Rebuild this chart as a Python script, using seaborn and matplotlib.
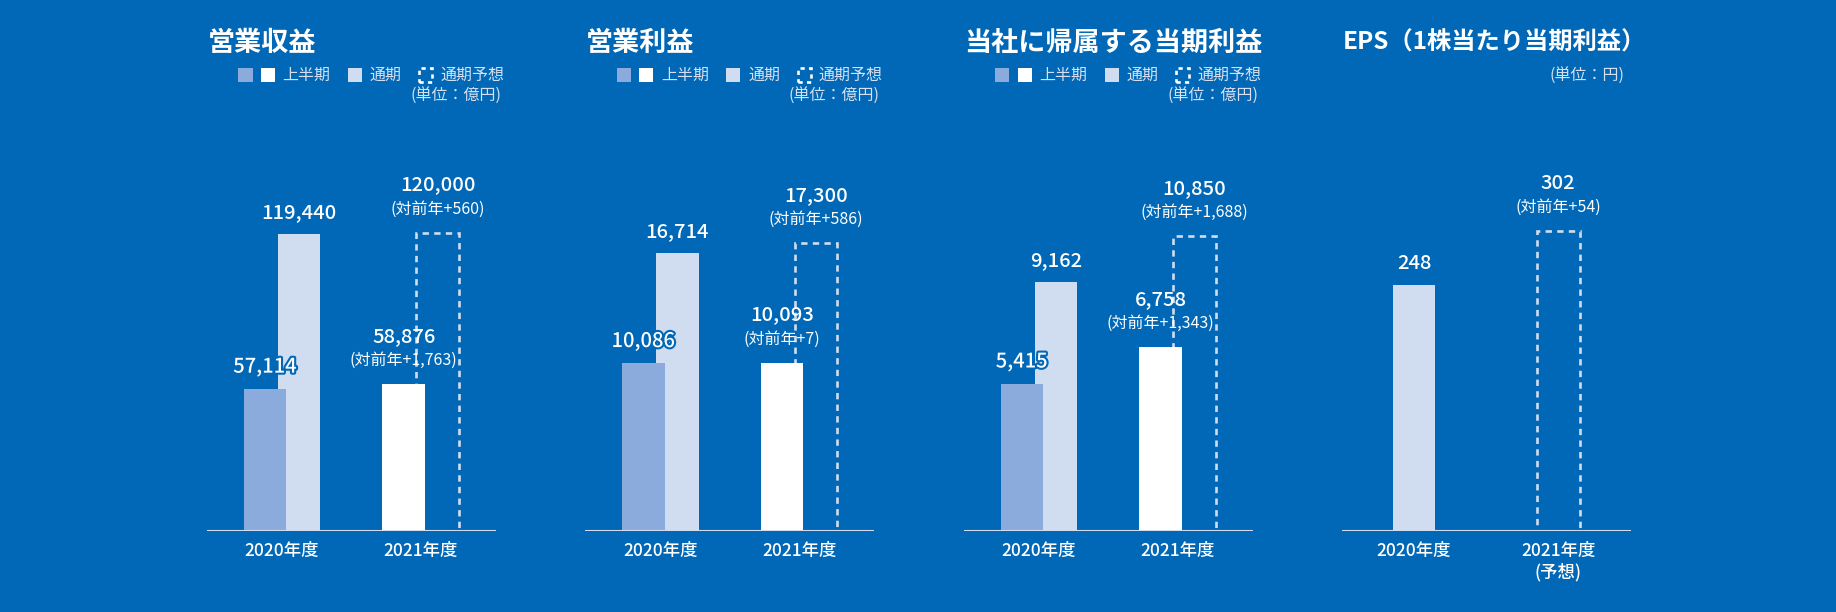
import matplotlib
matplotlib.use("Agg")
import matplotlib.pyplot as plt
import matplotlib.patheffects as pe
from matplotlib.patches import Rectangle
import seaborn as sns

# 各指標の値（単位は units）
titles = ["営業収益", "営業利益", "当社に帰属する当期利益", "EPS（1株当たり当期利益）"]
years = ["2020年度", "2021年度"]
h1_2020 = [57114, 10086, 5415, None]
h1_2021 = [58876, 10093, 6758, None]
fy_2020 = [119440, 16714, 9162, 248]
fy_2021_plan = [120000, 17300, 10850, 302]
h1_2021_diff = [1763, 7, 1343, None]
plan_diff = [560, 586, 1688, 54]
units = ["億円", "億円", "億円", "円"]

BG = "#0068b6"
C_H1_PREV = "#8aabdb"
C_FY = "#d0dcf0"
C_SUB = "#d6e0f2"

sns.set_theme(style="white")
plt.rcParams['font.family'] = ['Noto Sans CJK JP', 'DejaVu Sans']

W, H = 1836, 612
fig = plt.figure(figsize=(W / 100, H / 100), dpi=100, facecolor=BG)


def fx(px):
    return px / W


def fy(py):
    return 1 - py / H


# レイアウト（ピクセル）
ax_left = [206.7, 585, 963.5, 1342]
ax_w, ax_h = 289, 400
base_y = 530.5
ymax = [161074, 24095, 14737, 403.3]
title_size = [19.5, 19.5, 19.5, 17.5]
dash = (0, (2.4, 2.0))


def value_label(ax, x, y, main, sub=None, outline=False):
    dy = 15.5
    if sub:
        ax.annotate(sub, (x, y), xytext=(0, 17), textcoords='offset points',
                    ha='center', va='center', fontsize=11.5, color='white', zorder=6)
        dy = 34.5
    t = ax.annotate(main, (x, y), xytext=(0, dy), textcoords='offset points',
                    ha='center', va='center', fontsize=14.5, fontweight='medium',
                    color='white', zorder=6)
    if outline:
        t.set_path_effects([pe.withStroke(linewidth=3, foreground=BG)])


for i in range(4):
    ax = fig.add_axes([fx(ax_left[i]), fy(base_y), ax_w / W, ax_h / H])
    ax.set_facecolor('none')
    eps = h1_2020[i] is None
    if eps:
        off, bw = 0.0, 0.296
        ax.set_xlim(-0.5, 1.505)
    else:
        off, bw = 0.1225, 0.3075
        ax.set_xlim(-0.543, 1.540)
    ax.set_ylim(0, ymax[i])

    # 通期（2020年度）
    ax.bar(0 + off, fy_2020[i], width=bw, color=C_FY, linewidth=0, zorder=2)
    value_label(ax, 0 + off, fy_2020[i], f"{fy_2020[i]:,}")

    # 上半期
    if not eps:
        ax.bar(0 - off, h1_2020[i], width=bw, color=C_H1_PREV, linewidth=0, zorder=3)
        value_label(ax, 0 - off, h1_2020[i], f"{h1_2020[i]:,}", outline=True)
        ax.bar(1 - off, h1_2021[i], width=bw, color='white', linewidth=0, zorder=3)
        value_label(ax, 1 - off, h1_2021[i], f"{h1_2021[i]:,}",
                    sub=f"(対前年+{h1_2021_diff[i]:,})")

    # 通期予想（破線）
    ax.bar(1 + off, fy_2021_plan[i], width=bw, fill=False, edgecolor=C_FY,
           linewidth=1.9, linestyle=dash, zorder=2)
    value_label(ax, 1 + off, fy_2021_plan[i], f"{fy_2021_plan[i]:,}",
                sub=f"(対前年+{plan_diff[i]:,})")

    ax.axhline(0, color=C_FY, lw=1.5, zorder=5)
    sns.despine(ax=ax, left=True, bottom=True)
    ax.set_yticks([])
    ax.set_xticks([0, 1])
    labels = list(years)
    if eps:
        labels[1] = "2021年度\n(予想)"
    ax.set_xticklabels(labels, fontweight='medium', linespacing=1.25)
    ax.tick_params(axis='x', length=0, pad=8, labelsize=12.5, labelcolor='white')
    ax.grid(False)

    # タイトル
    fig.text(fx(ax_left[i] + 1), fy(43), titles[i], fontsize=title_size[i],
             fontweight='bold', color='white', ha='left', va='center')

    R = ax_left[i] + ax_w
    if eps:
        fig.text(fx(R - 6.7), fy(76.7), f"(単位：{units[i]})", fontsize=11.5,
                 color=C_SUB, ha='right', va='center')
        continue

    # 凡例
    sq = 14.4
    for x0, c in [(R - 257.4, C_H1_PREV), (R - 235, 'white'), (R - 148, C_FY)]:
        fig.add_artist(Rectangle((fx(x0), fy(75 + sq / 2)), sq / W, sq / H,
                                 transform=fig.transFigure, color=c, lw=0))
    fig.add_artist(Rectangle((fx(R - 76.5), fy(75 + 6.5)), 13 / W, 13 / H,
                             transform=fig.transFigure, fill=False, edgecolor='white',
                             lw=1.9, linestyle=(0, (1.6, 1.6))))
    for x0, s in [(R - 213, "上半期"), (R - 125.7, "通期"), (R - 55, "通期予想")]:
        fig.text(fx(x0), fy(75), s, fontsize=11.5, color=C_SUB, ha='left', va='center')
    fig.text(fx(R + 6), fy(96.7), f"(単位：{units[i]})", fontsize=11.5,
             color=C_SUB, ha='right', va='center')

fig.savefig("out.png", dpi=100, facecolor=BG)
